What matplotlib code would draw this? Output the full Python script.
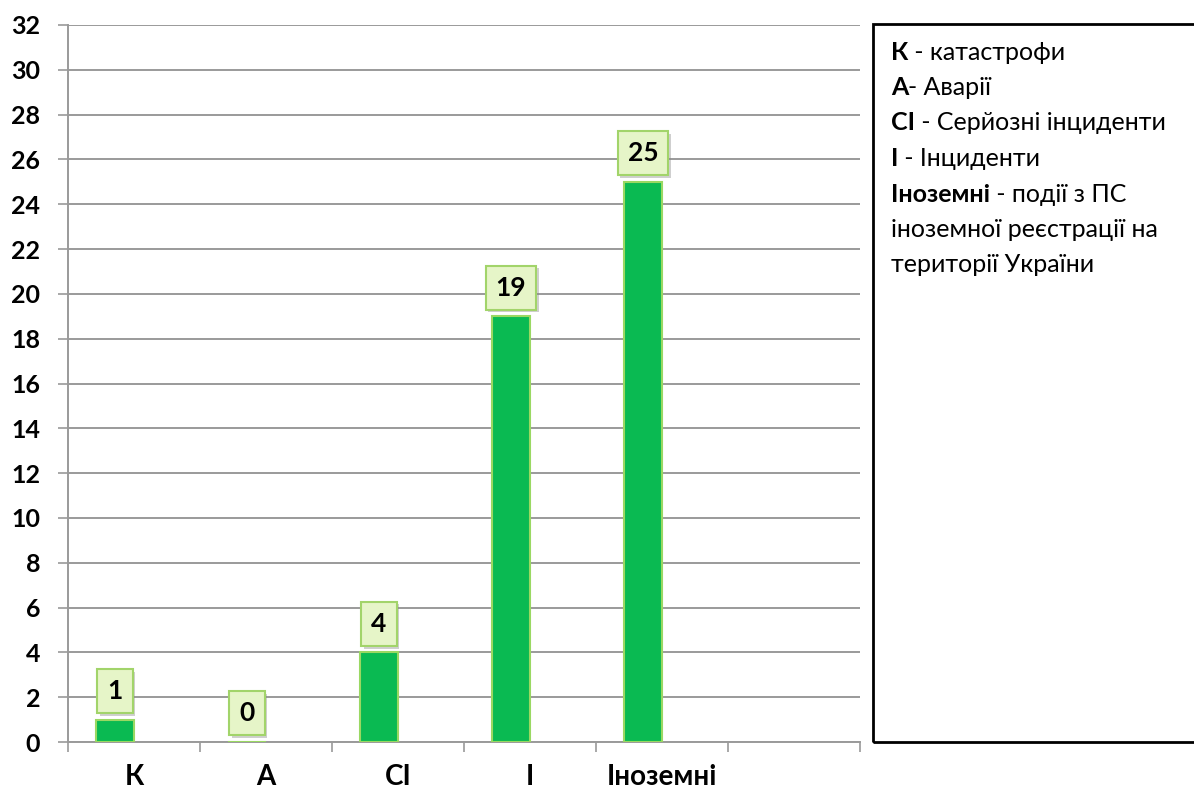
import matplotlib.pyplot as plt
import matplotlib.patheffects as pe
from matplotlib.patches import Rectangle
import numpy as np

plt.rcParams['font.family'] = ['Lato', 'DejaVu Sans']

# categories of aviation events (last slot is left empty)
categories = ['К', 'А', 'СІ', 'І', 'Іноземні', '']
counts = [1, 0, 4, 19, 25]
yticks = list(range(0, 33, 2))

# legend text: bold abbreviation + plain description
legend_bold = ['К', 'А', 'СІ', 'І', 'Іноземні', '', '']
legend_rest = [' - катастрофи', '- Аварії', ' - Серйозні інциденти', ' - Інциденти',
               ' - події з ПС', 'іноземної реєстрації на', 'території України']

bar_color = '#0ABA52'
bar_edge = '#9AD862'
grid_color = '#9A9A9A'

fig = plt.figure(figsize=(11.94, 7.91), dpi=100)
ax = fig.add_axes([68 / 1194, 1 - 742 / 791, (860 - 68) / 1194, (742 - 25) / 791])

x = np.arange(len(counts))
bw = 0.29
ax.bar(x - bw, counts, width=bw, align='edge', color=bar_color,
       edgecolor=bar_edge, linewidth=1.5, zorder=3)

# value labels in shaded boxes above bars
for xi, v in zip(x, counts):
    t = ax.annotate(str(v), (xi - bw / 2, v), xytext=(0, 12), textcoords='offset points',
                    ha='center', va='bottom', fontsize=19, fontweight='bold', color='black',
                    bbox=dict(boxstyle='square,pad=0.38', fc='#E6F5C8', ec='#A2D46A', lw=1.5),
                    zorder=5)
    t.get_bbox_patch().set_path_effects([
        pe.withSimplePatchShadow(offset=(2, -2), shadow_rgbFace='#888888', alpha=0.4)])

ax.set_xlim(-0.5, len(categories) - 0.5)
ax.set_ylim(0, 32)
ax.set_yticks(yticks)
ax.set_yticklabels([str(t) for t in yticks], fontsize=18, fontweight='bold')
ax.yaxis.grid(True, color=grid_color, linewidth=1.4, zorder=0)
ax.tick_params(axis='y', length=7, width=1.2, color=grid_color, pad=13)

# slot boundaries as major ticks, category names as minor labels
ax.set_xticks(np.arange(-0.5, len(categories), 1.0))
ax.set_xticklabels([])
ax.set_xticks(np.arange(len(categories)), minor=True)
ax.set_xticklabels(categories, minor=True, fontsize=20, fontweight='bold')
ax.tick_params(axis='x', which='major', length=7, width=1.2, color=grid_color)
ax.tick_params(axis='x', which='minor', length=0, pad=16)

for s in ['top', 'right']:
    ax.spines[s].set_visible(False)
for s in ['left', 'bottom']:
    ax.spines[s].set_color(grid_color)
    ax.spines[s].set_linewidth(1.4)

# legend box on the right
fig.patches.append(Rectangle((873 / 1194, 1 - 742 / 791), 0.5, (742 - 24) / 791,
                             transform=fig.transFigure, fill=False, ec='black', lw=2))

renderer = fig.canvas.get_renderer()
y0 = 52
for i, (b, r) in enumerate(zip(legend_bold, legend_rest)):
    yy = 1 - (y0 + i * 35.5) / 791
    xx = 891 / 1194
    if b:
        tb = fig.text(xx, yy, b, fontsize=18, fontweight='bold', va='center', ha='left')
        ext = tb.get_window_extent(renderer)
        xx = ext.x1 / fig.bbox.width
    fig.text(xx, yy, r, fontsize=18, va='center', ha='left')

fig.savefig('out.png', dpi=100)
